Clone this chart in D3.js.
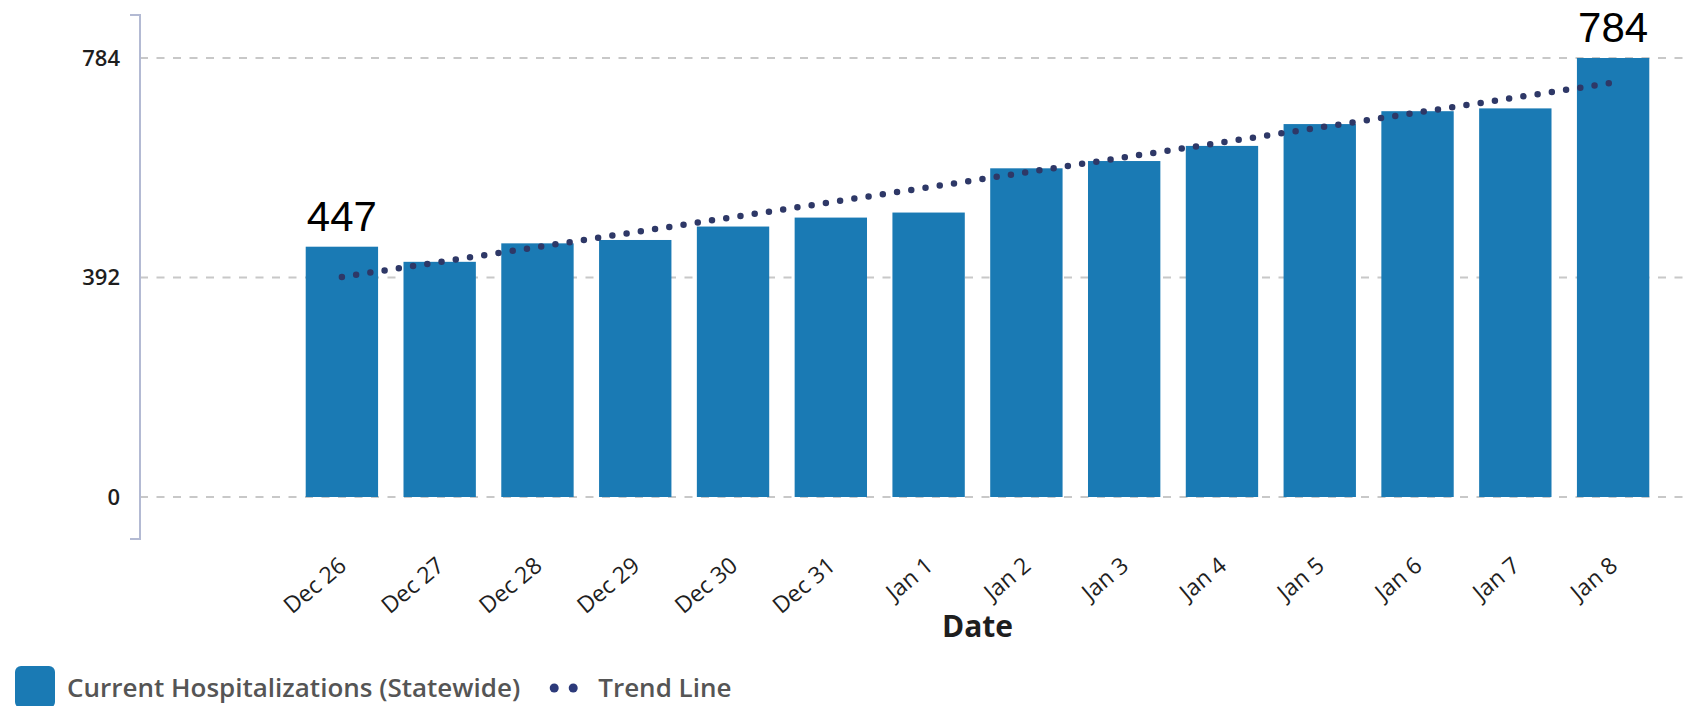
<!DOCTYPE html>
<html>
<head>
<meta charset="utf-8">
<script src="https://cdn.jsdelivr.net/npm/d3@7"></script>
<style>
  body { margin: 0; background: #fff; }
  svg { display: block; font-family: "Open Sans", sans-serif; }
</style>
</head>
<body>
<svg id="chart" width="1690" height="706"></svg>
<script>
const dates = ['Dec 26','Dec 27','Dec 28','Dec 29','Dec 30','Dec 31','Jan 1','Jan 2','Jan 3','Jan 4','Jan 5','Jan 6','Jan 7','Jan 8']
const hospitalizations = [447, 420, 453, 459, 483, 499, 508, 587, 600, 627, 666, 689, 694, 784]
const trendEnds = [393, 740]
const yTicks = [0, 392, 784]
const annotated = ['Dec 26', 'Jan 8']

const barColor = '#1a7ab4'
const trendColor = '#2e3867'

const svg = d3.select('#chart')

const x = d3.scaleBand()
    .domain(dates)
    .range([293, 1662])
    .paddingInner(0.26)
    .paddingOuter(0.13)

const y = d3.scaleLinear()
    .domain([0, 784])
    .range([497, 58])

// grid lines
svg.append('g')
    .selectAll('line')
    .data(yTicks)
    .join('line')
    .attr('x1', 140)
    .attr('x2', 1690)
    .attr('y1', d => y(d))
    .attr('y2', d => y(d))
    .attr('stroke', '#c8c8c8')
    .attr('stroke-width', 2)
    .attr('stroke-dasharray', '8,8.5')

// y axis, bracket shaped
const yAxis = d3.axisLeft(y).tickValues(yTicks).tickSize(0).tickPadding(20)
const yg = svg.append('g').attr('transform', 'translate(140,0)').call(yAxis)
yg.select('.domain').remove()
yg.selectAll('text')
    .attr('font-family', 'Open Sans')
    .attr('font-size', 22)
    .attr('font-weight', 600)
    .attr('fill', '#1e1e1e')
svg.append('path')
    .attr('d', 'M130,15H140V539H130')
    .attr('fill', 'none')
    .attr('stroke', '#b3bad3')
    .attr('stroke-width', 2)

// bars
svg.append('g')
    .selectAll('rect')
    .data(dates)
    .join('rect')
    .attr('x', d => x(d))
    .attr('width', x.bandwidth())
    .attr('y', (d, i) => y(hospitalizations[i]))
    .attr('height', (d, i) => y(0) - y(hospitalizations[i]))
    .attr('fill', barColor)

// trend line (dotted)
const first = dates[0], last = dates[dates.length - 1]
svg.append('line')
    .attr('x1', x(first) + x.bandwidth() / 2)
    .attr('x2', x(last) + x.bandwidth() / 2)
    .attr('y1', y(trendEnds[0]))
    .attr('y2', y(trendEnds[1]))
    .attr('stroke', trendColor)
    .attr('stroke-width', 6.5)
    .attr('stroke-linecap', 'round')
    .attr('stroke-dasharray', '0,14.4')

// x axis labels
const xAxis = d3.axisBottom(x).tickSize(0).tickPadding(0)
const xg = svg.append('g').attr('transform', 'translate(6,568)').call(xAxis)
xg.select('.domain').remove()
xg.selectAll('text')
    .attr('font-family', 'Open Sans')
    .attr('font-size', 23)
    .attr('fill', '#1e1e1e')
    .attr('text-anchor', 'end')
    .attr('dy', 0)
    .attr('y', 0)
    .attr('transform', 'rotate(-40)')

svg.append('text')
    .attr('x', (x.range()[0] + x.range()[1]) / 2)
    .attr('y', 637)
    .attr('text-anchor', 'middle')
    .attr('font-size', 30)
    .attr('font-weight', 700)
    .attr('fill', '#1e1e1e')
    .text('Date')

// value call-outs
svg.append('g')
    .selectAll('text')
    .data(annotated)
    .join('text')
    .attr('x', d => x(d) + x.bandwidth() / 2)
    .attr('y', d => y(hospitalizations[dates.indexOf(d)]) - 16)
    .attr('text-anchor', 'middle')
    .attr('font-family', 'Liberation Sans')
    .attr('font-size', 42)
    .attr('fill', '#000')
    .text(d => hospitalizations[dates.indexOf(d)])

// legend
const legend = svg.append('g')
legend.append('rect')
    .attr('x', 15).attr('y', 666)
    .attr('width', 40).attr('height', 42)
    .attr('rx', 6)
    .attr('fill', barColor)
const item1 = legend.append('text')
    .attr('x', 67).attr('y', 697)
    .attr('font-size', 26)
    .attr('font-weight', 600)
    .attr('fill', '#555')
    .text('Current Hospitalizations (Statewide)')
const dotX = 67 + item1.node().getComputedTextLength() + 34
legend.selectAll('circle')
    .data([0, 19])
    .join('circle')
    .attr('cx', d => dotX + d).attr('cy', 688)
    .attr('r', 4.5)
    .attr('fill', '#2c3a7a')
legend.append('text')
    .attr('x', dotX + 44).attr('y', 697)
    .attr('font-size', 26)
    .attr('font-weight', 600)
    .attr('fill', '#555')
    .text('Trend Line')
</script>
</body>
</html>
